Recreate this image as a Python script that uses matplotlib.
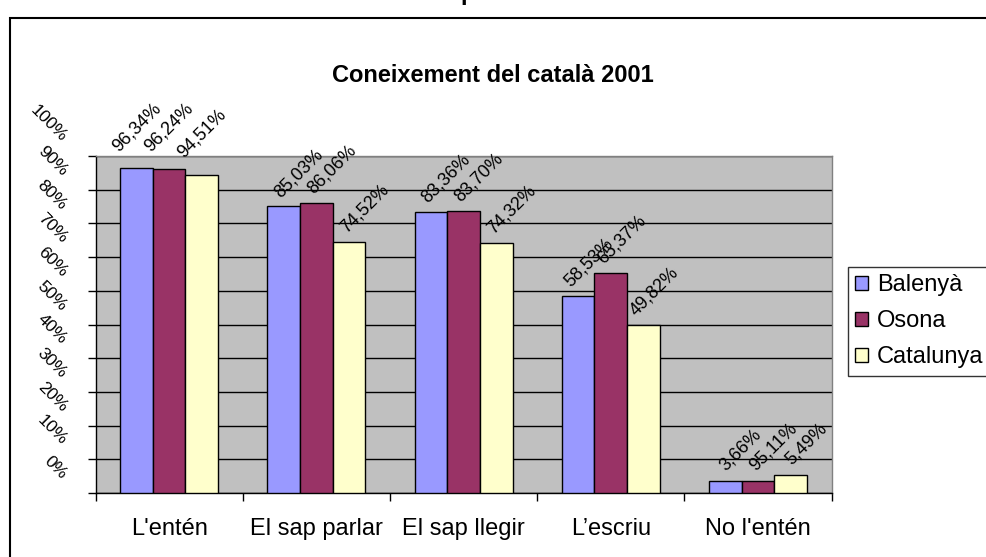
import matplotlib.pyplot as plt
import numpy as np
from matplotlib.patches import Rectangle, Patch

plt.rcParams['font.family'] = ['Liberation Sans', 'DejaVu Sans']

# dades
categories = ["L'entén", "El sap parlar", "El sap llegir", "L’escriu", "No l'entén"]
series_names = ["Balenyà", "Osona", "Catalunya"]
balenya = [96.34, 85.03, 83.36, 58.53, 3.66]
osona = [96.24, 86.06, 83.70, 65.37, 3.70]
catalunya = [94.51, 74.52, 74.32, 49.82, 5.49]
# etiquetes tal com surten al gràfic original
balenya_labels = ["96,34%", "85,03%", "83,36%", "58,53%", "3,66%"]
osona_labels = ["96,24%", "86,06%", "83,70%", "65,37%", "95,11%"]
catalunya_labels = ["94,51%", "74,52%", "74,32%", "49,82%", "5,49%"]
y_ticks = list(range(0, 101, 10))
y_tick_labels = [f"{v}%" for v in y_ticks]

colors = ['#9999FF', '#993366', '#FFFFCC']
# desplaçament de les etiquetes (punts) per categoria
label_offsets = [(0, 9.5), (11, 4), (11, 4), (8, 4), (11, 4.5)]

fig = plt.figure(figsize=(9.86, 5.57), dpi=100)
ax = fig.add_axes([0.0969, 0.1149, 0.7465, 0.605])

# marc del gràfic
fig.add_artist(Rectangle((10 / 986, -0.05), 1.2, 1.05 - 18 / 557, fill=False,
                         edgecolor='black', linewidth=1.5, transform=fig.transFigure))

# tros del títol de dalt, retallat
fig.text(468 / 986, 1.0, "p", ha='center', va='baseline', fontsize=17, fontweight='bold')

fig.text(0.5, 1 - 76 / 557, "Coneixement del català 2001", ha='center', va='center',
         fontsize=17, fontweight='bold')

ax.set_facecolor('#C0C0C0')
x = np.arange(len(categories))
w = 0.222
all_vals = [balenya, osona, catalunya]
all_labels = [balenya_labels, osona_labels, catalunya_labels]
for j in range(3):
    pos = x + (j - 1) * w
    ax.bar(pos, all_vals[j], width=w, color=colors[j], edgecolor='black', linewidth=1, zorder=3)
    for i, (xi, v, lab) in enumerate(zip(pos, all_vals[j], all_labels[j])):
        ax.annotate(lab, (xi, v), xytext=label_offsets[i], textcoords='offset points',
                    rotation=45, ha='center', va='bottom', fontsize=13, zorder=4,
                    annotation_clip=False)

ax.set_xlim(-0.5, len(categories) - 0.5)
ax.set_ylim(0, 100)
ax.set_yticks(y_ticks)
ax.set_yticklabels([])
ax.yaxis.grid(True, color='black', linewidth=1, zorder=1)
ax.set_axisbelow(True)
ax.tick_params(axis='y', direction='out', length=6, width=1)

# les etiquetes de l'eix Y surten desplaçades cap amunt, com a l'original
for v, lab in zip(y_ticks, y_tick_labels):
    ax.text(-0.035, v + 3.3, lab, transform=ax.get_yaxis_transform(), rotation=-45,
            ha='right', va='bottom', fontsize=12.5)

ax.set_xticks(x)
ax.set_xticklabels(categories, fontsize=17)
ax.set_xticks(np.arange(-0.5, len(categories)), minor=True)
ax.tick_params(axis='x', which='major', length=0, pad=18)
ax.tick_params(axis='x', which='minor', direction='out', length=6, width=1)

for sp in ax.spines.values():
    sp.set_color('black')
    sp.set_linewidth(1)
ax.spines['right'].set_color('#808080')
ax.spines['top'].set_color('#808080')

handles = [Patch(facecolor=c, edgecolor='black', linewidth=1) for c in colors]
leg = fig.legend(handles, series_names, loc='upper left', bbox_to_anchor=(848 / 986, 1 - 267 / 557),
                 fontsize=17, frameon=True, fancybox=False, edgecolor='black',
                 handlelength=0.55, handleheight=0.55, handletextpad=0.38,
                 borderpad=0.3, labelspacing=0.6, borderaxespad=0)
leg.get_frame().set_linewidth(1)

fig.savefig('out.png', dpi=100)
